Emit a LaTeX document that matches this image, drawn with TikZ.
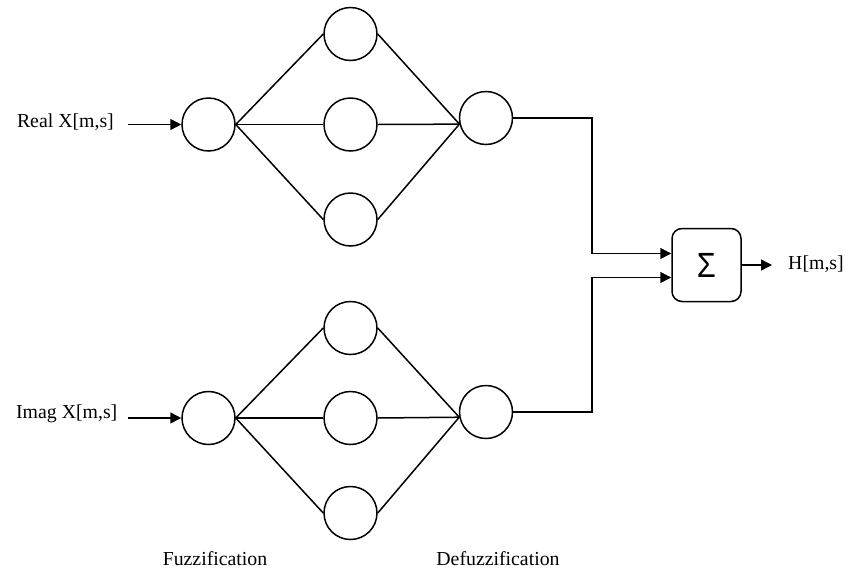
\documentclass[tikz,border=0pt]{standalone}
\usepackage{fontspec}
\setmainfont{Liberation Serif}
\newfontfamily\sigfont{Liberation Sans}
\usetikzlibrary{arrows.meta}
\begin{document}
\begin{tikzpicture}[x=1pt,y=-1pt,
  neuron/.style={circle,draw,line width=1.5pt,minimum size=53pt,inner sep=0pt},
  lbl/.style={inner sep=0pt,font=\fontsize{19.8}{22}\selectfont},
  wire/.style={line width=1.5pt},
  arr/.style={line width=1.5pt,-{Triangle[length=11pt,width=11pt]}},
  sumbox/.style={draw,line width=1.5pt,rounded corners=10pt,minimum width=69pt,minimum height=73pt,inner sep=0pt}]
\useasboundingbox (0,0) rectangle (849,571);
% top network
\node[neuron] (ti) at (208.5,124.5) {};
\node[neuron] (th1) at (350.5,34) {};
\node[neuron] (th2) at (350.5,124.5) {};
\node[neuron] (th3) at (350.5,219.5) {};
\node[neuron] (to) at (486,118) {};
% bottom network
\node[neuron] (bi) at (208.5,418) {};
\node[neuron] (bh1) at (350.5,328) {};
\node[neuron] (bh2) at (350.5,418) {};
\node[neuron] (bh3) at (350.5,513) {};
\node[neuron] (bo) at (486,412) {};
% sum
\node[sumbox] (sum) at (706.5,265) {\sigfont\fontsize{35}{36}\selectfont\scalebox{0.88}[1]{Σ}};
% labels
\node[lbl,anchor=east] (lr) at (114,122) {Real X[m,s]};
\node[lbl,anchor=east] (li) at (117.5,414) {Imag X[m,s]};
\node[lbl,anchor=west] (lh) at (788,264) {H[m,s]};
\node[lbl] (lf) at (215,559) {Fuzzification};
\node[lbl] (ld) at (498,559) {Defuzzification};
% input arrows
\draw[arr,shorten <=14pt] (lr.east |- ti.west) -- (ti.west);
\draw[arr,shorten <=10.5pt] (li.east |- bi.west) -- (bi.west);
% top connections
\foreach \h in {th1,th2,th3}{
  \draw[wire] (ti.east) -- (\h.west);
  \draw[wire] (\h.east) -- (to.193);
}
\foreach \h in {bh1,bh2,bh3}{
  \draw[wire] (bi.east) -- (\h.west);
  \draw[wire] (\h.east) -- (bo.191);
}
% to sum
\coordinate (tk) at (592,118);
\coordinate (bk) at (592,412);
\draw[arr] (to.east) -- (tk) |- ([yshift=11.5pt]sum.west);
\draw[arr] (bo.east) -- (bk) |- ([yshift=-12.5pt]sum.west);
\draw[arr,shorten >=16pt] (sum.east) -- (sum.east -| lh.west);
\end{tikzpicture}
\end{document}
